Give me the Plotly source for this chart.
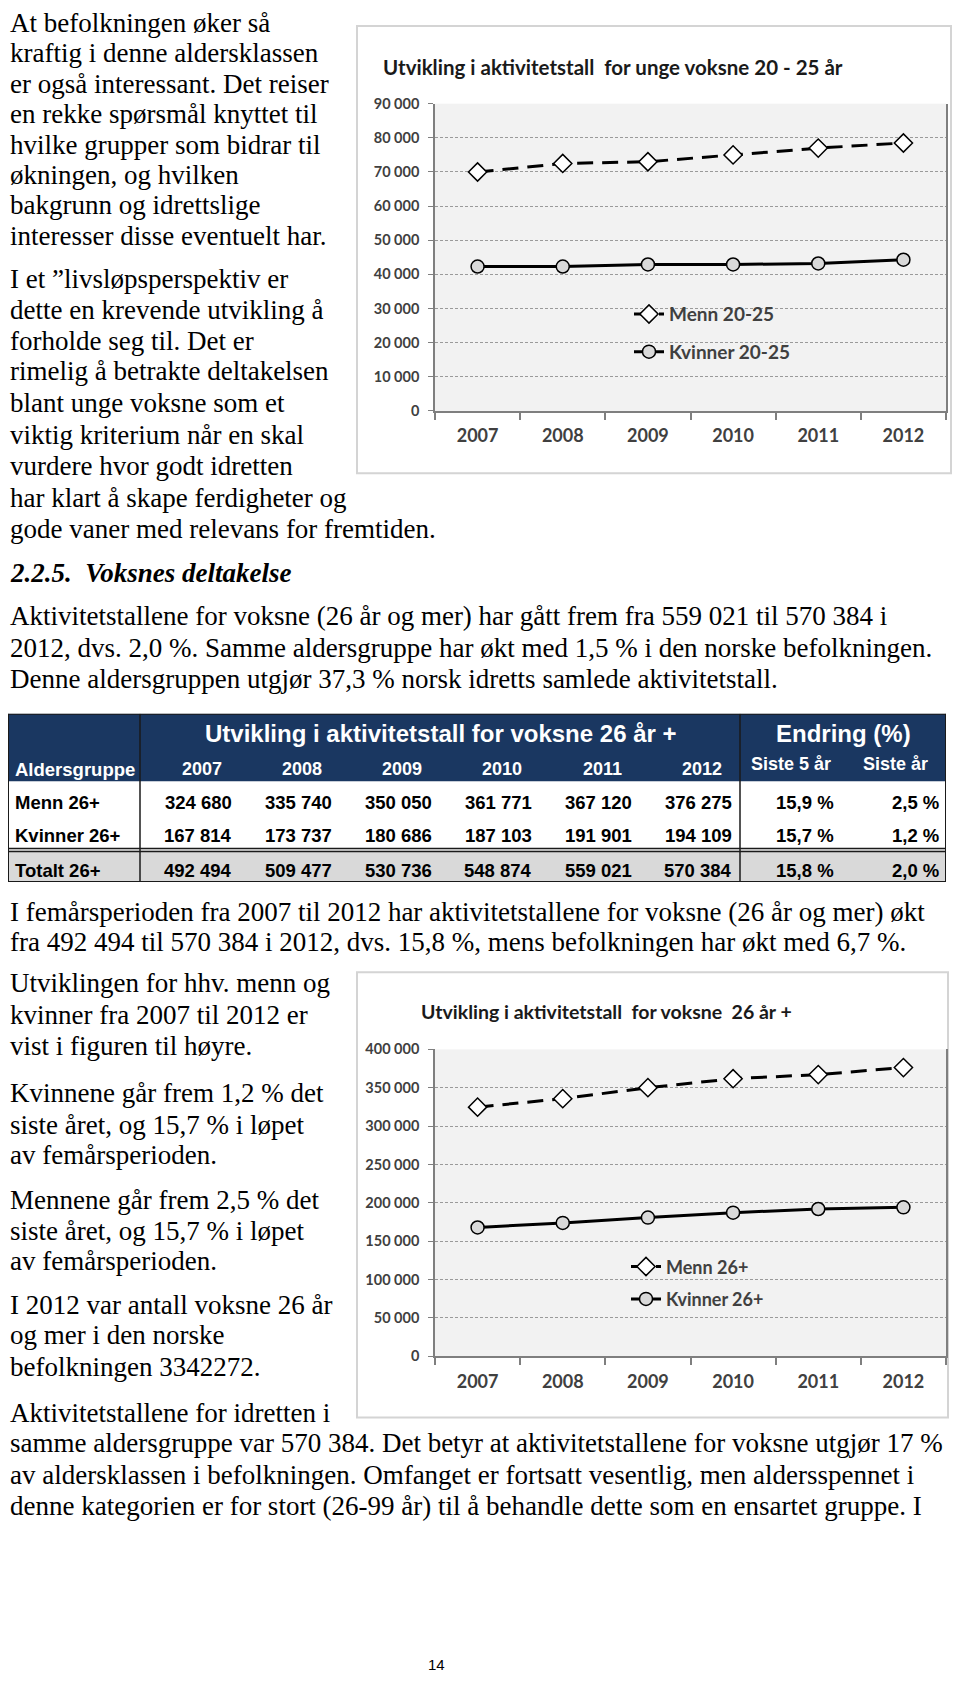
import plotly.graph_objects as go

# ---------------- data ----------------
years = ["2007", "2008", "2009", "2010", "2011", "2012"]
menn_20_25 = [70000, 72500, 73000, 75000, 77000, 78500]
kvinner_20_25 = [42300, 42300, 42900, 42900, 43200, 44300]

row_labels = ["Menn 26+", "Kvinner 26+", "Totalt 26+"]
menn_26 = [324680, 335740, 350050, 361771, 367120, 376275]
kvinner_26 = [167814, 173737, 180686, 187103, 191901, 194109]
totalt_26 = [492494, 509477, 530736, 548874, 559021, 570384]
endring_5_aar = [15.9, 15.7, 15.8]
endring_siste_aar = [2.5, 1.2, 2.0]

# page body has an 8px margin -> figure is placed at (8, 8)
OFF = 8
W, H = 944, 1668


def px(x):
    return (x - OFF) / W


def py(y):
    return 1 - (y - OFF) / H


SERIF = "Liberation Serif, Times New Roman, serif"
SANS = "Lato, Open Sans, sans-serif"
TAB = "Liberation Sans, Arial, sans-serif"
AX = "#404040"

fig = go.Figure()

# ---------------- chart 1 ----------------
fig.add_trace(go.Scatter(
    x=years, y=menn_20_25, name="Menn 20-25", mode="lines+markers",
    line=dict(color="black", width=3, dash="16px,9px"),
    marker=dict(symbol="diamond", size=14, color="white", line=dict(color="black", width=1.5)),
    xaxis="x", yaxis="y", legend="legend", legendgroup="a"))
fig.add_trace(go.Scatter(
    x=years, y=kvinner_20_25, name="Kvinner 20-25", mode="lines+markers",
    line=dict(color="black", width=3),
    marker=dict(symbol="circle", size=13, color="#D9D9D9", line=dict(color="black", width=1.5)),
    xaxis="x", yaxis="y", legend="legend", legendgroup="b"))

# ---------------- chart 2 ----------------
fig.add_trace(go.Scatter(
    x=years, y=menn_26, name="Menn 26+", mode="lines+markers",
    line=dict(color="black", width=3, dash="16px,9px"),
    marker=dict(symbol="diamond", size=14, color="white", line=dict(color="black", width=1.5)),
    xaxis="x2", yaxis="y2", legend="legend2", legendgroup="c"))
fig.add_trace(go.Scatter(
    x=years, y=kvinner_26, name="Kvinner 26+", mode="lines+markers",
    line=dict(color="black", width=3),
    marker=dict(symbol="circle", size=13, color="#D9D9D9", line=dict(color="black", width=1.5)),
    xaxis="x2", yaxis="y2", legend="legend2", legendgroup="d"))

xcommon = dict(type="category", range=[-0.5, 5.5], showline=True, linecolor="#7F7F7F", linewidth=1.5,
               ticks="outside", tickson="boundaries", ticklen=7, tickcolor="#7F7F7F", tickwidth=1.5,
               tickfont=dict(family=SANS, size=18, color=AX, weight="bold"), showgrid=False,
               ticklabelstandoff=8, fixedrange=True)
ycommon = dict(showline=True, mirror=True, linecolor="#7F7F7F", linewidth=1.5, ticks="outside", ticklen=5,
               tickcolor="#7F7F7F", tickformat=",d", showgrid=True, gridcolor="#9A9A9A", griddash="3px,2px",
               gridwidth=1, zeroline=False, tickfont=dict(family=SANS, size=14.5, color=AX, weight="bold"),
               ticklabelstandoff=6, fixedrange=True)

fig.update_layout(
    xaxis=dict(domain=[px(435), px(946)], anchor="y", **xcommon),
    yaxis=dict(domain=[py(406), py(95.6)], anchor="x", range=[0, 90000], dtick=10000, **ycommon),
    xaxis2=dict(domain=[px(435), px(946)], anchor="y2", **xcommon),
    yaxis2=dict(domain=[py(1361), py(1051)], anchor="x2", range=[0, 400000], dtick=50000, **ycommon),
)

# ---------------- table (own hidden axes) ----------------
fig.update_layout(
    xaxis3=dict(domain=[px(8), px(946)], anchor="y3", range=[-1.32, 8.06], visible=False, fixedrange=True),
    yaxis3=dict(domain=[py(882), py(712)], anchor="x3", range=[170, 0], visible=False, fixedrange=True),
)

NAVY = "#1A3761"
shapes = []
annos = []
shapes.append(dict(type="rect", xref="x3", yref="y3", x0=-1.32, x1=8.06, y0=0, y1=136,
                   fillcolor="white", line=dict(width=0), layer="below"))
shapes.append(dict(type="rect", xref="x3", yref="y3", x0=-1.32, x1=8.06, y0=0, y1=68,
                   fillcolor=NAVY, line=dict(width=0), layer="below"))
shapes.append(dict(type="rect", xref="x3", yref="y3", x0=-1.32, x1=8.06, y0=138, y1=170,
                   fillcolor="#D9D9D9", line=dict(width=0), layer="below"))
for (x0, y0, x1, y1, w) in [(-1.32, 0, 8.06, 0, 2), (-1.32, 170, 8.06, 170, 2), (-1.32, 0, -1.32, 170, 2),
                            (8.06, 0, 8.06, 170, 2), (0, 0, 0, 170, 1.5), (6, 0, 6, 170, 1.5),
                            (-1.32, 136, 8.06, 136, 1.5), (-1.32, 139, 8.06, 139, 1.5)]:
    shapes.append(dict(type="line", xref="x3", yref="y3", x0=x0, y0=y0, x1=x1, y1=y1,
                       line=dict(color="#1a1a1a", width=w)))


def tanno(x, y, text, size, color="black", anchor="right"):
    annos.append(dict(xref="x3", yref="y3", x=x, y=y, text=text, showarrow=False, xanchor=anchor,
                      yanchor="middle", font=dict(family=TAB, size=size, color=color, weight="bold")))


tanno(3.01, 20, "Utvikling i aktivitetstall for voksne 26 år +", 24, "white", "center")
tanno(7.03, 20, "Endring (%)", 24, "white", "center")
tanno(-1.27, 56, "Aldersgruppe", 18.5, "white", "left")
for i, yr in enumerate(years):
    tanno(i + 0.835, 56, yr, 18, "white")
tanno(6.505, 51, "Siste 5 år", 18, "white", "center")
tanno(7.553, 51, "Siste år", 18, "white", "center")


def fmt_int(v):
    return f"{v:,}".replace(",", " ")


def fmt_pct(v):
    return f"{v:.1f} %".replace(".", ",")


rows = [menn_26, kvinner_26, totalt_26]
row_y = [90, 123, 158]
for r, (lab, vals, yy) in enumerate(zip(row_labels, rows, row_y)):
    tanno(-1.27, yy, lab, 18.5, "black", "left")
    for i, v in enumerate(vals):
        tanno(i + 0.94, yy, fmt_int(v), 18.5)
    tanno(6.96, yy, fmt_pct(endring_5_aar[r]), 18.5)
    tanno(8.01, yy, fmt_pct(endring_siste_aar[r]), 18.5)

# ---------------- chart frames and titles ----------------
for (x0, y0, x1, y1) in [(357, 17, 951, 469), (357, 973, 948, 1423)]:
    shapes.append(dict(type="rect", xref="paper", yref="paper", x0=px(x0), x1=px(x1), y0=py(y1), y1=py(y0),
                       line=dict(color="#D4D4D4", width=2), fillcolor="rgba(0,0,0,0)", layer="below"))

annos.append(dict(xref="paper", yref="paper", x=px(381), y=py(59), xanchor="left", yanchor="middle",
                  showarrow=False, text="Utvikling i aktivitetstall  for unge voksne 20 - 25 år",
                  font=dict(family=SANS, size=20.5, color="#1a1a1a", weight="bold")))
annos.append(dict(xref="paper", yref="paper", x=px(419), y=py(1013), xanchor="left", yanchor="middle",
                  showarrow=False, text="Utvikling i aktivitetstall  for voksne  26 år +",
                  font=dict(family=SANS, size=19.5, color="#1a1a1a", weight="bold")))

# ---------------- body text ----------------
lines = [
    (18, "At befolkningen øker så"),
    (48.7, "kraftig i denne aldersklassen"),
    (79.4, "er også interessant. Det reiser"),
    (110, "en rekke spørsmål knyttet til"),
    (140.9, "hvilke grupper som bidrar til"),
    (171.6, "økningen, og hvilken"),
    (202.3, "bakgrunn og idrettslige"),
    (233, "interesser disse eventuelt har."),
    (277, "I et ”livsløpsperspektiv er"),
    (308, "dette en krevende utvikling å"),
    (339, "forholde seg til. Det er"),
    (370, "rimelig å betrakte deltakelsen"),
    (402, "blant unge voksne som et"),
    (434, "viktig kriterium når en skal"),
    (466, "vurdere hvor godt idretten"),
    (498, "har klart å skape ferdigheter og"),
    (529, "gode vaner med relevans for fremtiden."),
    (574, "<b><i>2.2.5.  Voksnes deltakelse</i></b>"),
    (617, "Aktivitetstallene for voksne (26 år og mer) har gått frem fra 559 021 til 570 384 i"),
    (649, "2012, dvs. 2,0 %. Samme aldersgruppe har økt med 1,5 % i den norske befolkningen."),
    (681, "Denne aldersgruppen utgjør 37,3 % norsk idretts samlede aktivitetstall."),
    (916, "I femårsperioden fra 2007 til 2012 har aktivitetstallene for voksne (26 år og mer) økt"),
    (947, "fra 492 494 til 570 384 i 2012, dvs. 15,8 %, mens befolkningen har økt med 6,7 %."),
    (988, "Utviklingen for hhv. menn og"),
    (1020, "kvinner fra 2007 til 2012 er"),
    (1052, "vist i figuren til høyre."),
    (1099, "Kvinnene går frem 1,2 % det"),
    (1131, "siste året, og 15,7 % i løpet"),
    (1162, "av femårsperioden."),
    (1207, "Mennene går frem 2,5 % det"),
    (1238, "siste året, og 15,7 % i løpet"),
    (1269, "av femårsperioden."),
    (1313, "I 2012 var antall voksne 26 år"),
    (1344, "og mer i den norske"),
    (1376, "befolkningen 3342272."),
    (1422, "Aktivitetstallene for idretten i"),
    (1453, "samme aldersgruppe var 570 384. Det betyr at aktivitetstallene for voksne utgjør 17 %"),
    (1485, "av aldersklassen i befolkningen. Omfanget er fortsatt vesentlig, men aldersspennet i"),
    (1516, "denne kategorien er for stort (26-99 år) til å behandle dette som en ensartet gruppe. I"),
]
for y, t in lines:
    annos.append(dict(xref="paper", yref="paper", x=px(8), y=py(y - 4), xanchor="left", yanchor="middle",
                      showarrow=False, text=t, font=dict(family=SERIF, size=27, color="black")))

annos.append(dict(xref="paper", yref="paper", x=px(436), y=py(1672), xanchor="center", yanchor="middle",
                  showarrow=False, text="14", font=dict(family=TAB, size=15, color="black")))

fig.update_layout(
    width=W, height=H, margin=dict(l=0, r=0, t=0, b=0),
    paper_bgcolor="white", plot_bgcolor="#F2F2F2",
    separators=", ",
    shapes=shapes, annotations=annos,
    legend=dict(x=px(629), y=py(289), xanchor="left", yanchor="top", bgcolor="rgba(0,0,0,0)",
                font=dict(family=SANS, size=19, color=AX, weight="bold"), tracegroupgap=10,
                traceorder="grouped"),
    legend2=dict(x=px(626), y=py(1252), xanchor="left", yanchor="top", bgcolor="rgba(0,0,0,0)",
                 font=dict(family=SANS, size=18, color=AX, weight="bold"), tracegroupgap=6,
                 traceorder="grouped"),
)

fig.write_html("out.html")
